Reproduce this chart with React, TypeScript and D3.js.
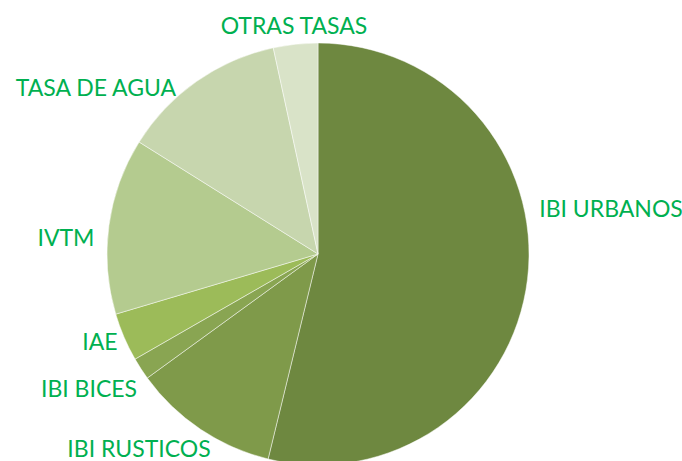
import React from "react";
import * as d3 from "d3";

const categories = [
  "IBI URBANOS",
  "IBI RUSTICOS",
  "IBI BICES",
  "IAE",
  "IVTM",
  "TASA DE AGUA",
  "OTRAS TASAS",
];
const values = [53.8, 11.2, 1.7, 3.7, 13.5, 12.7, 3.4];
const colors = ["#6e8840", "#7f9a4a", "#89a552", "#9cbb59", "#b4cb8f", "#c7d6ae", "#d9e3c8"];
// label anchor points (text centre) relative to the page
const labelPos: [number, number][] = [
  [611, 208],
  [139, 448],
  [89, 388],
  [100, 341],
  [66, 237],
  [96, 87],
  [294, 25],
];

const width = 682;
const height = 461;
const cx = 318;
const cy = 254;
const radius = 211;

const App = () => {
  const pie = d3.pie<number>().sort(null).value((d) => d);
  const arcs = pie(values);
  const arc = d3.arc<d3.PieArcDatum<number>>().innerRadius(0).outerRadius(radius);

  return (
    <svg
      width={width}
      height={height}
      style={{ position: "absolute", left: 0, top: 0, background: "#fff" }}
    >
      <g transform={`translate(${cx},${cy})`}>
        {arcs.map((a, i) => (
          <path
            key={i}
            d={arc(a) ?? ""}
            fill={colors[i]}
            stroke="#ffffff"
            strokeOpacity={0.6}
            strokeWidth={0.8}
          />
        ))}
      </g>
      <g
        fill="#00b050"
        fontFamily="Lato, 'Open Sans', sans-serif"
        fontSize={23}
        textAnchor="middle"
        dominantBaseline="central"
      >
        {categories.map((c, i) => (
          <text key={c} x={labelPos[i][0]} y={labelPos[i][1]}>
            {c}
          </text>
        ))}
      </g>
    </svg>
  );
};

export default App;
